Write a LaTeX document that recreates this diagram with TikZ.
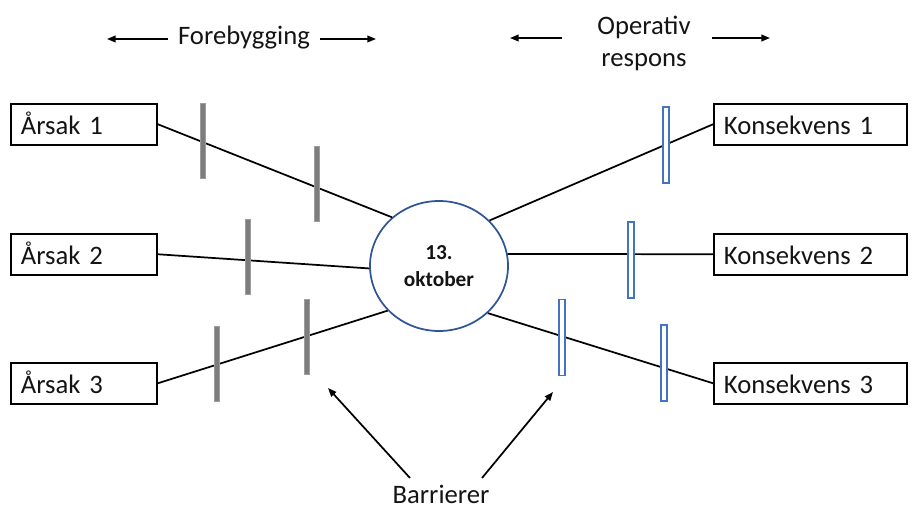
\documentclass[tikz,border=0pt]{standalone}
\usepackage{fontspec}
\setmainfont{Carlito}
\usetikzlibrary{arrows.meta,shapes.geometric}
\definecolor{ringblue}{RGB}{47,85,151}
\definecolor{barblue}{RGB}{68,114,196}
\definecolor{bargray}{RGB}{125,125,125}
\definecolor{inkblack}{RGB}{20,20,20}
\begin{document}
\begin{tikzpicture}[x=0.75pt,y=-0.75pt,
  lbl/.style={font=\fontsize{20}{24}\selectfont, text=inkblack, inner sep=0pt},
  box/.style={draw=black, line width=1.4pt, fill=white, anchor=north west,
    minimum height=30.5pt, inner xsep=7.5pt, inner ysep=0pt,
    text height=15pt, text depth=0pt, align=left,
    font=\fontsize{20}{24}\selectfont, text=inkblack},
  causebox/.style={box, text width=94.5pt},
  effectbox/.style={box, text width=129.75pt},
  event/.style={ellipse, draw=ringblue, line width=1.3pt, fill=white,
    minimum width=103.5pt, minimum height=97.5pt, inner sep=0pt, align=center,
    font=\bfseries\fontsize{16}{20.25}\selectfont, text=inkblack},
  link/.style={draw=black, line width=1.3pt},
  arr/.style={-{Triangle[length=6.5pt,width=5pt]}, line width=1.3pt, draw=black},
  graybar/.style={rectangle, fill=bargray, draw=bargray!75, line width=0.4pt,
    minimum width=3.75pt, minimum height=56.25pt, inner sep=0pt},
  bluebar/.style={rectangle, fill=white, draw=barblue, line width=0.9pt,
    minimum width=4.5pt, minimum height=57pt, inner sep=0pt}
]
\useasboundingbox (0,0) rectangle (917,509);

% header labels with their direction arrows
\node[lbl, anchor=base, inner xsep=7.5pt] (fb) at (244,45) {Forebygging};
\coordinate (fbL) at (107,39);
\coordinate (fbR) at (376,39);
\draw[arr] (fb.west |- fbL) -- (fbL);
\draw[arr] (fb.east |- fbR) -- (fbR);

\node[lbl, align=center] (op) at (644,43) {Operativ\\respons};
\coordinate (opL) at (510,38);
\coordinate (opR) at (770,38);
\draw[arr] (op.west |- opL) ++(-26.25pt,0) -- (opL);
\draw[arr] (op.east |- opR) ++(15.75pt,0) -- (opR);

% causes, event and consequences
\node[causebox] (a1) at (10,103) {Årsak 1};
\node[causebox] (a2) at (10,233) {Årsak 2};
\node[causebox] (a3) at (10,362) {Årsak 3};
\node[effectbox] (k1) at (713,103) {Konsekvens 1};
\node[effectbox] (k2) at (713,233) {Konsekvens 2};
\node[effectbox] (k3) at (713,362) {Konsekvens 3};

\node[event] (ev) at (439,266) {13.\\oktober};

\draw[link] (a1.east) -- (ev.134);
\draw[link] (a2.east) -- (ev.182);
\draw[link] (a3.east) -- (ev.221);
\draw[link] (ev.42) -- (k1.west);
\draw[link] (ev.10) -- (k2.west);
\draw[link] (ev.316) -- (k3.west);

% preventive barriers (grey)
\node[graybar] (g1) at (203,140.5) {};
\node[graybar] (g2) at (317,183.5) {};
\node[graybar] (g3) at (248,257) {};
\node[graybar] (g4) at (217,363.5) {};
\node[graybar] (g5) at (307,337) {};

% response barriers (blue outline)
\node[bluebar] (r1) at (666,145) {};
\node[bluebar] (r2) at (631,260) {};
\node[bluebar] (r3) at (562,337.5) {};
\node[bluebar] (r4) at (664,363) {};

% barrier caption
\node[lbl, anchor=base] (barr) at (441,503) {Barrierer};
\coordinate (srcL) at (410,478);
\coordinate (tipL) at (328,388);
\coordinate (srcR) at (482,478);
\coordinate (tipR) at (553,392);
\draw[arr] (srcL) -- (tipL);
\draw[arr] (srcR) -- (tipR);
\end{tikzpicture}
\end{document}
